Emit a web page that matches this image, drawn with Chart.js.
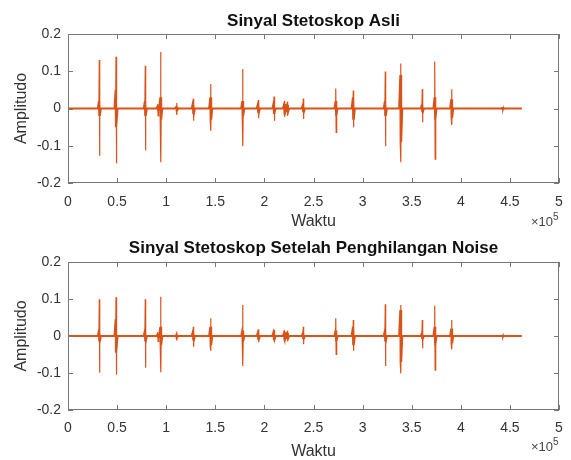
<!DOCTYPE html>
<html>
<head>
<meta charset="utf-8">
<script src="https://cdn.jsdelivr.net/npm/chart.js@4/dist/chart.umd.min.js"></script>
<style>
body { margin: 0; background: #fff; }
.box { position: absolute; left: 0; width: 571px; height: 230px; }
</style>
</head>
<body>
<div class="box" style="top:0"><canvas id="asli"></canvas></div>
<div class="box" style="top:230px"><canvas id="bersih"></canvas></div>
<script>
// sample index of each heart-sound burst
var eventTimes = [31900, 48900, 78700, 91600, 94400, 110700, 127600, 145300, 177900, 193800, 209800,
  220500, 223500, 239600, 272900, 290500, 323100, 338800, 360800, 373700, 390700, 442700];
var signalEnd = 462000;

// original signal: positive peak, negative peak, burst envelope
var asliUp = [0.130, 0.139, 0.115, 0.012, 0.152, 0.015, 0.026, 0.066, 0.106, 0.023, 0.032,
  0.020, 0.018, 0.027, 0.054, 0.048, 0.099, 0.121, 0.052, 0.126, 0.052, 0.004];
var asliDown = [-0.127, -0.147, -0.113, -0.020, -0.144, -0.017, -0.033, -0.060, -0.101, -0.026, -0.033,
  -0.022, -0.020, -0.028, -0.064, -0.050, -0.101, -0.144, -0.037, -0.136, -0.044, -0.004];
var asliBurst = [0.02, 0.05, 0.02, 0.006, 0.03, 0.005, 0.015, 0.03, 0.02, 0.012, 0.015,
  0.012, 0.01, 0.01, 0.02, 0.03, 0.02, 0.09, 0.01, 0.03, 0.025, 0.002];

// after noise removal
var bersihUp = [0.099, 0.105, 0.099, 0.010, 0.106, 0.012, 0.025, 0.048, 0.084, 0.018, 0.017,
  0.015, 0.014, 0.025, 0.048, 0.043, 0.086, 0.084, 0.043, 0.082, 0.043, 0.003];
var bersihDown = [-0.099, -0.105, -0.086, -0.015, -0.098, -0.012, -0.029, -0.040, -0.081, -0.017, -0.017,
  -0.015, -0.014, -0.022, -0.050, -0.040, -0.081, -0.101, -0.033, -0.092, -0.036, -0.003];
var bersihBurst = [0.015, 0.045, 0.015, 0.005, 0.025, 0.004, 0.012, 0.025, 0.015, 0.01, 0.012,
  0.01, 0.008, 0.008, 0.015, 0.025, 0.015, 0.07, 0.008, 0.025, 0.02, 0.002];

var xTicks = [0, 50000, 100000, 150000, 200000, 250000, 300000, 350000, 400000, 450000, 500000];
var yTicks = [-0.2, -0.1, 0, 0.1, 0.2];

var orange = 'rgb(217, 83, 25)';
var fontName = '"Liberation Sans", Arial, sans-serif';

function buildSignal(up, down, burst) {
  var pts = [{x: 0, y: 0}];
  eventTimes.forEach(function (t, i) {
    var b = burst[i];
    pts.push({x: t - 2000, y: 0}, {x: t - 800, y: b}, {x: t - 500, y: -b},
      {x: t, y: up[i]}, {x: t + 200, y: down[i]},
      {x: t + 600, y: b}, {x: t + 900, y: -b}, {x: t + 2000, y: 0});
  });
  pts.push({x: signalEnd, y: 0});
  return pts;
}

// matlab style box, inward ticks and the x10^5 exponent
var matlabAxes = {
  id: 'matlabAxes',
  afterDraw: function (chart, args, opts) {
    var ctx = chart.ctx, a = chart.chartArea;
    var sx = chart.scales.x, sy = chart.scales.y;
    ctx.save();
    ctx.strokeStyle = '#777';
    ctx.lineWidth = 1;
    ctx.strokeRect(Math.round(a.left) + 0.5, Math.round(a.top) + 0.5,
      Math.round(a.right - a.left) - 1, Math.round(a.bottom - a.top) - 1);
    ctx.beginPath();
    xTicks.forEach(function (v) {
      var px = Math.round(sx.getPixelForValue(v)) + 0.5;
      ctx.moveTo(px, a.bottom); ctx.lineTo(px, a.bottom - 5);
      ctx.moveTo(px, a.top); ctx.lineTo(px, a.top + 5);
    });
    yTicks.forEach(function (v) {
      var py = Math.round(sy.getPixelForValue(v)) + 0.5;
      ctx.moveTo(a.left, py); ctx.lineTo(a.left + 5, py);
      ctx.moveTo(a.right, py); ctx.lineTo(a.right - 5, py);
    });
    ctx.stroke();
    ctx.fillStyle = '#444';
    ctx.textBaseline = 'middle';
    ctx.textAlign = 'right';
    ctx.font = '13px ' + fontName;
    ctx.fillText('\u00d710', 553, opts.expY);
    ctx.textAlign = 'left';
    ctx.font = '10px ' + fontName;
    ctx.fillText('5', 553, opts.expY - 5);
    ctx.restore();
  }
};

function makeChart(id, title, data, cfg) {
  return new Chart(document.getElementById(id), {
    type: 'line',
    data: {
      datasets: [{
        data: buildSignal(data.up, data.down, data.burst),
        borderColor: orange,
        borderWidth: 1.2,
        pointRadius: 0,
        tension: 0
      }, {
        data: [{x: 0, y: 0}, {x: signalEnd, y: 0}],
        borderColor: orange,
        borderWidth: 2,
        pointRadius: 0
      }]
    },
    options: {
      responsive: true,
      maintainAspectRatio: false,
      animation: false,
      layout: { padding: { top: 0, right: 12, bottom: 0, left: 0 } },
      plugins: {
        legend: { display: false },
        tooltip: { enabled: false },
        title: {
          display: true,
          fullSize: false,
          text: title,
          color: '#111',
          font: { family: fontName, size: 17, weight: 'bold' },
          padding: cfg.titlePad
        },
        matlabAxes: { expY: cfg.expY }
      },
      scales: {
        x: {
          type: 'linear',
          min: 0,
          max: 500000,
          afterFit: function (s) {
            s.height = cfg.xHeight;
            s.paddingLeft = 0;
            s.paddingRight = 0;
          },
          afterBuildTicks: function (s) { s.ticks = xTicks.map(function (v) { return {value: v}; }); },
          grid: { display: false, drawTicks: false },
          border: { display: false },
          ticks: {
            padding: cfg.xTickPad,
            color: '#333',
            font: { family: fontName, size: 14 },
            callback: function (v) { return String(+(v / 100000).toFixed(1)); }
          },
          title: {
            display: true,
            text: 'Waktu',
            color: '#333',
            font: { family: fontName, size: 16 },
            padding: { top: 0, bottom: -1 }
          }
        },
        y: {
          min: -0.2,
          max: 0.2,
          afterFit: function (s) {
            s.width = 68;
            s.paddingTop = 0;
            s.paddingBottom = 0;
          },
          afterBuildTicks: function (s) { s.ticks = yTicks.map(function (v) { return {value: v}; }); },
          grid: { display: false, drawTicks: false },
          border: { display: false },
          ticks: {
            padding: 7,
            color: '#333',
            font: { family: fontName, size: 14 },
            callback: function (v) { return String(+v.toFixed(1)); }
          },
          title: {
            display: true,
            text: 'Amplitudo',
            color: '#333',
            font: { family: fontName, size: 16 },
            padding: { top: 12, bottom: 0 }
          }
        }
      }
    },
    plugins: [matlabAxes]
  });
}

makeChart('asli', 'Sinyal Stetoskop Asli',
  {up: asliUp, down: asliDown, burst: asliBurst},
  {titlePad: {top: 11, bottom: 2.6}, xHeight: 47, xTickPad: 11, expY: 222});

makeChart('bersih', 'Sinyal Stetoskop Setelah Penghilangan Noise',
  {up: bersihUp, down: bersihDown, burst: bersihBurst},
  {titlePad: {top: 8, bottom: 3.6}, xHeight: 50, xTickPad: 10, expY: 217});
</script>
</body>
</html>
